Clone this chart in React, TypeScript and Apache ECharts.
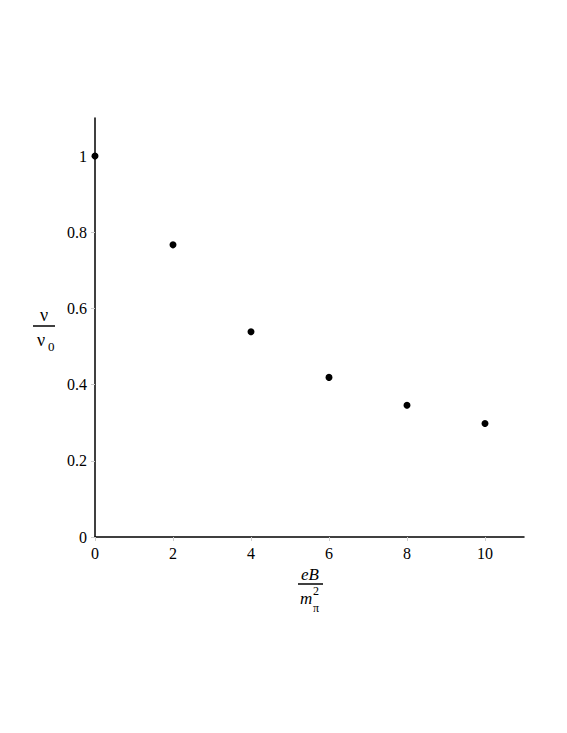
import React, { useEffect, useRef } from "react";
import * as echarts from "echarts";

const xValues = [0, 2, 4, 6, 8, 10];
const yValues = [1.0, 0.767, 0.539, 0.419, 0.346, 0.298];
const xTicks = [0, 2, 4, 6, 8, 10];
const yTicks = [0, 0.2, 0.4, 0.6, 0.8, 1];

const FONT = "Liberation Serif";

const txt = (text: string, left: number, top: number, size: number, italic = false) => ({
  type: "text",
  left,
  top,
  style: {
    text,
    fontFamily: FONT,
    fontSize: size,
    fontStyle: italic ? "italic" : "normal",
    fill: "#000",
  },
});

export default function App() {
  const ref = useRef<HTMLDivElement>(null);
  useEffect(() => {
    document.body.style.margin = "0";
    const chart = echarts.init(ref.current!, null, { renderer: "svg" });
    chart.setOption({
      animation: false,
      backgroundColor: "#fff",
      textStyle: { fontFamily: FONT },
      grid: { left: 95, top: 118, right: 43, bottom: 196, containLabel: false },
      xAxis: {
        type: "value",
        min: 0,
        max: 11,
        splitLine: { show: false },
        axisLine: { show: true, onZero: false, lineStyle: { color: "#000", width: 1.5 } },
        axisTick: { show: true, length: 4, customValues: xTicks, lineStyle: { color: "#ccc" } },
        axisLabel: { customValues: xTicks, color: "#000", fontFamily: FONT, fontSize: 16, margin: 8 },
      },
      yAxis: {
        type: "value",
        min: 0,
        max: 1.1,
        splitLine: { show: false },
        axisLine: { show: true, onZero: false, lineStyle: { color: "#000", width: 1.5 } },
        axisTick: { show: true, length: 4, customValues: yTicks, lineStyle: { color: "#ccc" } },
        axisLabel: { customValues: yTicks, color: "#000", fontFamily: FONT, fontSize: 16, margin: 8 },
      },
      series: [
        {
          type: "scatter",
          data: xValues.map((x, i) => [x, yValues[i]]),
          symbol: "circle",
          symbolSize: 7,
          itemStyle: { color: "#000", opacity: 1 },
          clip: false,
        },
      ],
      graphic: [
        txt("ν", 40, 306, 18),
        { type: "line", shape: { x1: 33, y1: 326, x2: 55, y2: 326 }, style: { stroke: "#000", lineWidth: 1.5 } },
        txt("ν", 37, 331, 18),
        txt("0", 48, 340, 13),
        txt("eB", 301, 566, 17, true),
        { type: "line", shape: { x1: 298, y1: 584, x2: 323, y2: 584 }, style: { stroke: "#000", lineWidth: 1.5 } },
        txt("m", 300, 590, 17, true),
        txt("2", 313, 585, 12),
        txt("π", 313, 602, 12),
      ],
    });
    return () => chart.dispose();
  }, []);
  return <div ref={ref} style={{ width: 567, height: 733 }} />;
}
